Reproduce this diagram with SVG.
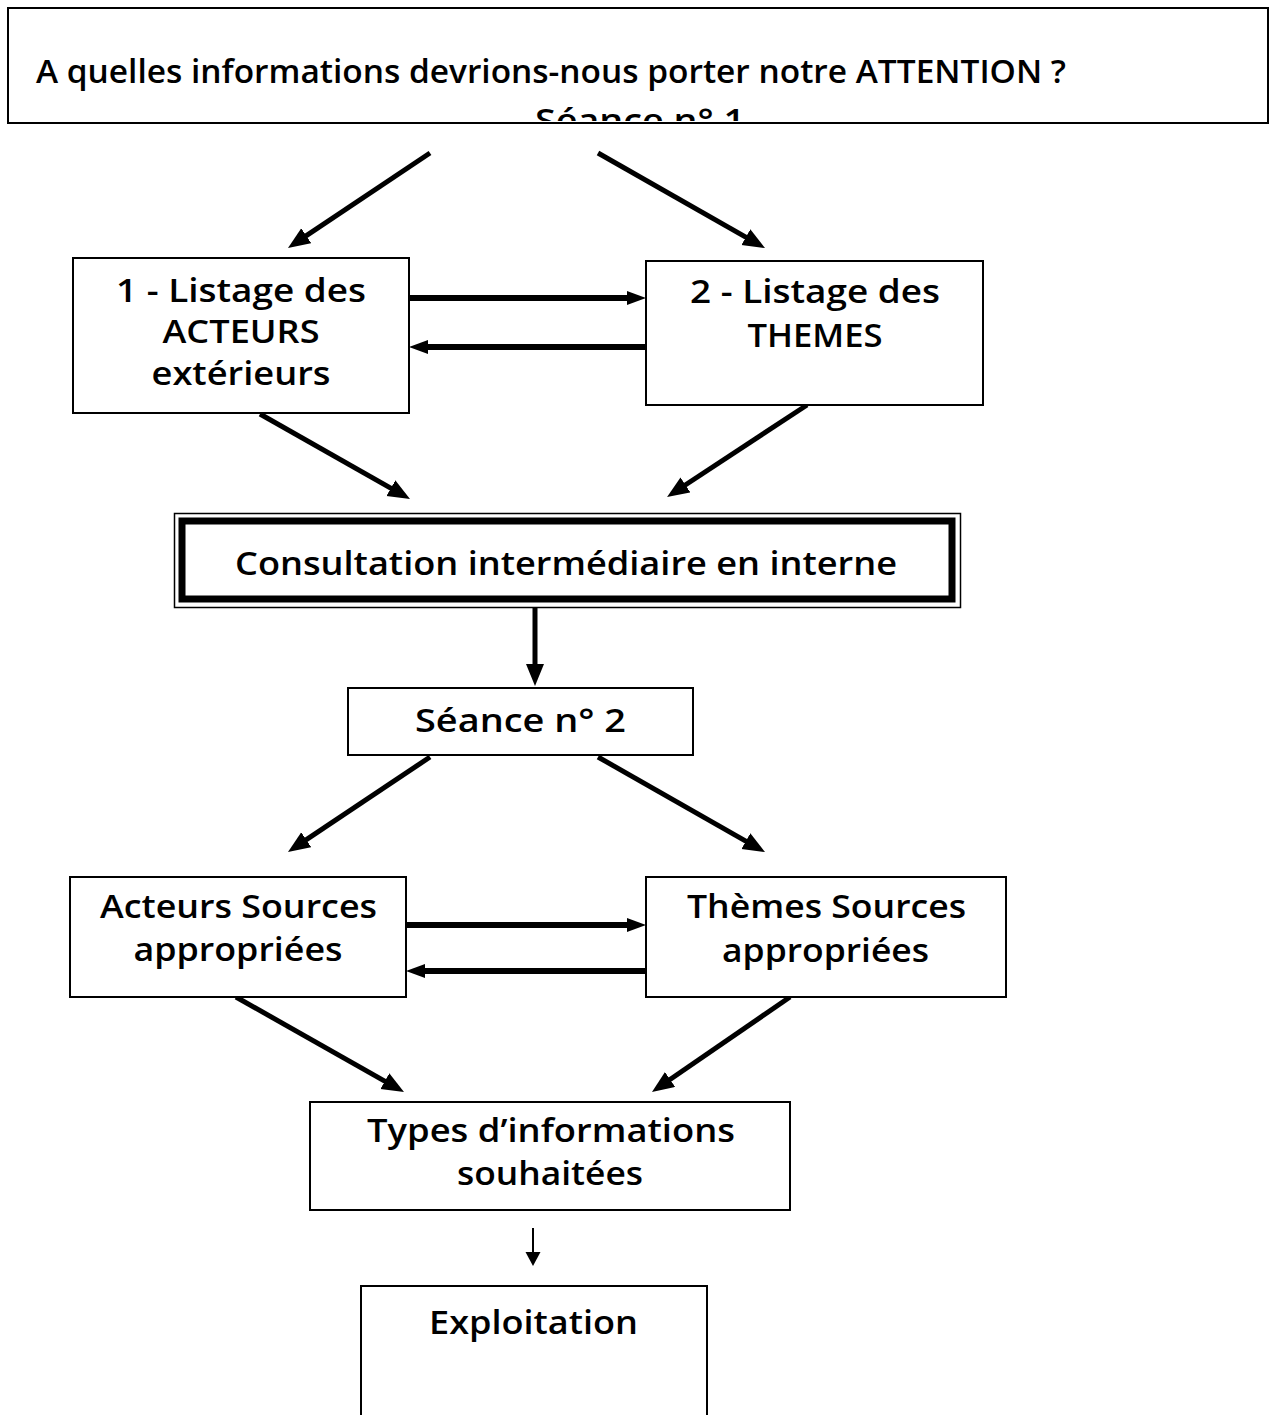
<svg xmlns="http://www.w3.org/2000/svg" width="1275" height="1415" viewBox="0 0 1275 1415">
<style>
  .box { fill: #fff; stroke: #000; stroke-width: 2; }
  .t { font-family: "Open Sans", "DejaVu Sans", sans-serif; font-weight: 600; font-size: 33px; fill: #000; text-anchor: middle; }
  .tl { text-anchor: start; }
  .thick { stroke: #000; stroke-width: 5; fill: none; }
  .horiz { stroke: #000; stroke-width: 6; fill: none; }
  .thin { stroke: #000; stroke-width: 2; fill: none; }
</style>
<defs>
  <marker id="hd" markerUnits="userSpaceOnUse" markerWidth="24" markerHeight="20" refX="12" refY="9" orient="auto">
    <path d="M0,0 L22,9 L0,18 z" fill="#000"/>
  </marker>
  <marker id="hh" markerUnits="userSpaceOnUse" markerWidth="22" markerHeight="16" refX="11" refY="7" orient="auto">
    <path d="M0,0 L19,7 L0,14 z" fill="#000"/>
  </marker>
  <marker id="ht" markerUnits="userSpaceOnUse" markerWidth="16" markerHeight="16" refX="10" refY="7.5" orient="auto">
    <path d="M0,0 L14,7.5 L0,15 z" fill="#000"/>
  </marker>
  <clipPath id="topclip"><rect x="8" y="8" width="1260" height="113"/></clipPath>
</defs>

<g id="connectors">
  <line class="thick" x1="430" y1="153" x2="296.3" y2="242.4" marker-end="url(#hd)"/>
  <line class="thick" x1="598" y1="153" x2="756.3" y2="243.1" marker-end="url(#hd)"/>
  <line class="horiz" x1="409" y1="298" x2="638" y2="298" marker-end="url(#hh)"/>
  <line class="horiz" x1="646" y1="347" x2="417" y2="347" marker-end="url(#hh)"/>
  <line class="thick" x1="260" y1="414" x2="401.3" y2="494.1" marker-end="url(#hd)"/>
  <line class="thick" x1="807" y1="405" x2="675.4" y2="491.5" marker-end="url(#hd)"/>
  <line class="thick" x1="535" y1="607" x2="535" y2="676" marker-end="url(#hd)"/>
  <line class="thick" x1="430" y1="757" x2="296.3" y2="846.4" marker-end="url(#hd)"/>
  <line class="thick" x1="598" y1="757" x2="756.3" y2="847.1" marker-end="url(#hd)"/>
  <line class="horiz" x1="406" y1="925" x2="638" y2="925" marker-end="url(#hh)"/>
  <line class="horiz" x1="646" y1="971" x2="414" y2="971" marker-end="url(#hh)"/>
  <line class="thick" x1="236" y1="997" x2="395.3" y2="1087.1" marker-end="url(#hd)"/>
  <line class="thick" x1="790" y1="997" x2="660.2" y2="1086.3" marker-end="url(#hd)"/>
  <line class="thin" x1="533" y1="1228" x2="533" y2="1262" marker-end="url(#ht)"/>
</g>

<g id="title">
  <rect class="box" x="8" y="8" width="1260" height="115"/>
  <g clip-path="url(#topclip)">
    <text class="t tl" x="36" y="83" textLength="1030" lengthAdjust="spacingAndGlyphs">A quelles informations devrions-nous porter notre ATTENTION ?</text>
    <text class="t" x="640" y="132" textLength="210" lengthAdjust="spacingAndGlyphs">Séance n° 1</text>
  </g>
</g>

<g id="acteurs">
  <rect class="box" x="73" y="258" width="336" height="155"/>
  <text class="t" x="241" y="302" textLength="250" lengthAdjust="spacingAndGlyphs">1 - Listage des</text>
  <text class="t" x="241" y="343" textLength="157" lengthAdjust="spacingAndGlyphs">ACTEURS</text>
  <text class="t" x="241" y="385" textLength="179" lengthAdjust="spacingAndGlyphs">extérieurs</text>
</g>

<g id="themes">
  <rect class="box" x="646" y="261" width="337" height="144"/>
  <text class="t" x="815" y="303" textLength="250" lengthAdjust="spacingAndGlyphs">2 - Listage des</text>
  <text class="t" x="815" y="347" textLength="135" lengthAdjust="spacingAndGlyphs">THEMES</text>
</g>

<g id="consultation">
  <rect x="174.5" y="513.5" width="786" height="94" fill="#fff" stroke="#000" stroke-width="1.5"/>
  <rect x="182" y="521" width="770" height="78" fill="none" stroke="#000" stroke-width="7"/>
  <text class="t" x="566" y="575" textLength="662" lengthAdjust="spacingAndGlyphs">Consultation intermédiaire en interne</text>
</g>

<g id="seance2">
  <rect class="box" x="348" y="688" width="345" height="67"/>
  <text class="t" x="520.5" y="732" textLength="211" lengthAdjust="spacingAndGlyphs">Séance n° 2</text>
</g>

<g id="acteurs-sources">
  <rect class="box" x="70" y="877" width="336" height="120"/>
  <text class="t" x="238.5" y="918" textLength="277" lengthAdjust="spacingAndGlyphs">Acteurs Sources</text>
  <text class="t" x="238" y="961" textLength="209" lengthAdjust="spacingAndGlyphs">appropriées</text>
</g>

<g id="themes-sources">
  <rect class="box" x="646" y="877" width="360" height="120"/>
  <text class="t" x="826.5" y="918" textLength="279" lengthAdjust="spacingAndGlyphs">Thèmes Sources</text>
  <text class="t" x="825.5" y="962" textLength="207" lengthAdjust="spacingAndGlyphs">appropriées</text>
</g>

<g id="types">
  <rect class="box" x="310" y="1102" width="480" height="108"/>
  <text class="t" x="551" y="1142" textLength="368" lengthAdjust="spacingAndGlyphs">Types d’informations</text>
  <text class="t" x="550" y="1185" textLength="186" lengthAdjust="spacingAndGlyphs">souhaitées</text>
</g>

<g id="exploitation">
  <rect class="box" x="361" y="1286" width="346" height="200"/>
  <text class="t" x="533.5" y="1334" textLength="209" lengthAdjust="spacingAndGlyphs">Exploitation</text>
</g>
</svg>
